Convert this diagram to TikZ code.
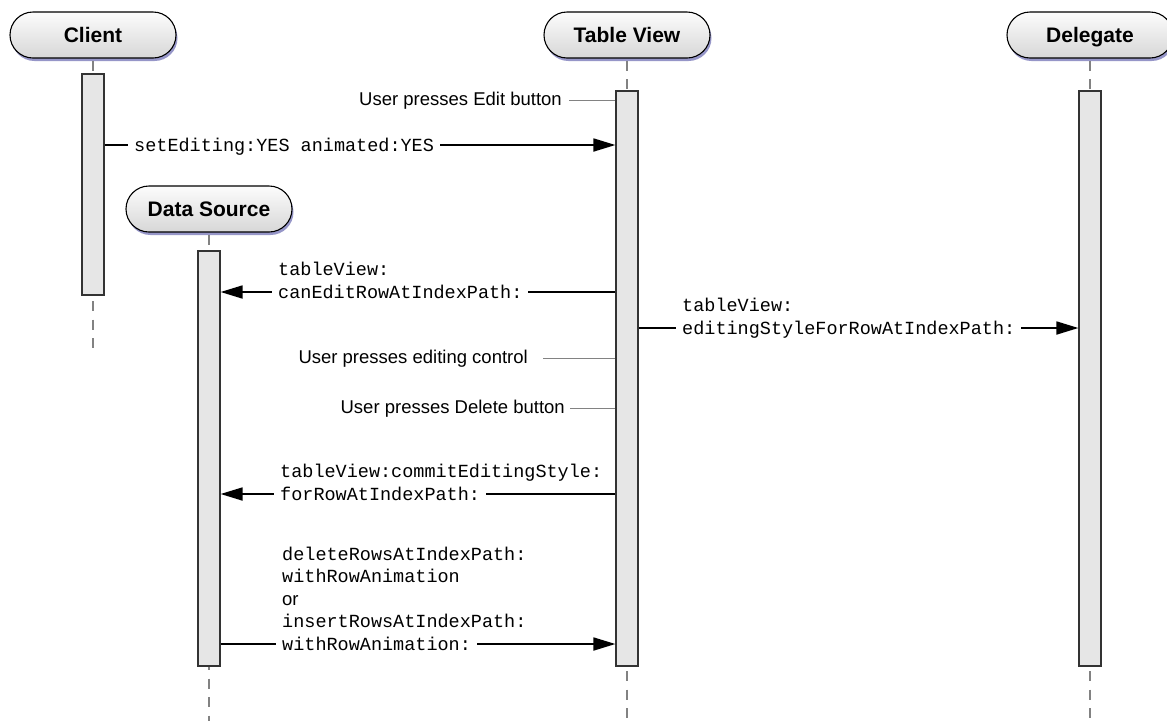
\documentclass[tikz,border=0pt]{standalone}
\usepackage{fontspec}
\setmainfont{Liberation Sans}
\setmonofont{Liberation Mono}
\usetikzlibrary{arrows.meta, shadows}
\definecolor{barfill}{RGB}{230, 230, 230}
\definecolor{pilltop}{RGB}{252, 252, 252}
\definecolor{pillbottom}{RGB}{215, 215, 215}
\definecolor{pillshadow}{RGB}{150, 150, 200}
\definecolor{lifegray}{RGB}{130, 130, 130}
\newcommand{\msgfont}{\fontsize{18.5}{22.5}\selectfont\ttfamily}
\newcommand{\notefont}{\fontsize{18.5}{22.5}\selectfont}

\begin{document}
\begin{tikzpicture}[x=1pt, y=-1pt,
  actor/.style={draw, line width=1.1pt, rounded corners=23pt, minimum width=166pt,
                minimum height=46pt, top color=pilltop, bottom color=pillbottom,
                text height=15pt, text depth=0pt,
                font=\fontsize{21}{25}\selectfont\bfseries,
                drop shadow={shadow xshift=1.5pt, shadow yshift=-3pt, fill=pillshadow, opacity=1}},
  bar/.style={draw=black!80, line width=1.2pt, fill=barfill, minimum width=22pt, inner sep=0pt},
  lifeline/.style={lifegray, line width=1.5pt, dash pattern=on 10pt off 8.5pt, dash phase=16.5pt},
  msg/.style={-{Triangle[length=22pt, width=13pt]}, line width=1.8pt},
  msgtext/.style={fill=white, font=\msgfont, inner xsep=6pt, inner ysep=0pt, anchor=base west},
  msghead/.style={font=\msgfont, inner xsep=6pt, inner ysep=0pt, anchor=base west},
  note/.style={font=\notefont, inner sep=0pt, anchor=base east},
  callout/.style={lifegray, line width=1pt},
]
\useasboundingbox (0,0) rectangle (1167,721);

% Participants
\node[actor] (client) at (93,35) {Client};
\node[actor] (tableview) at (627,35) {Table View};
\node[actor] (delegate) at (1090,35) {Delegate};
\node[actor] (datasource) at (209,209) {Data Source};

% Lifelines
\draw[lifeline] (client.south) -- (client.south |- 0,350);
\draw[lifeline] (tableview.south) -- (tableview.south |- 0,721);
\draw[lifeline] (delegate.south) -- (delegate.south |- 0,721);
\draw[lifeline] (datasource.south) -- (datasource.south |- 0,721);

% Activation bars
\node[bar, minimum height=221pt] (clientbar) at (93,184.5) {};
\node[bar, minimum height=415pt] (dsbar) at (209,458.5) {};
\node[bar, minimum height=575pt] (tvbar) at (627,378.5) {};
\node[bar, minimum height=575pt] (delbar) at (1090,378.5) {};

% Messages
\draw[msg] (clientbar.east |- 0,145) -- (tvbar.west |- 0,145);
\draw[msg] (tvbar.west |- 0,292) -- (dsbar.east |- 0,292);
\draw[msg] (tvbar.east |- 0,328) -- (delbar.west |- 0,328);
\draw[msg] (tvbar.west |- 0,494) -- (dsbar.east |- 0,494);
\draw[msg] (dsbar.east |- 0,644) -- (tvbar.west |- 0,644);

\node[msgtext] (seteditlbl) at (128,151) {setEditing:YES animated:YES};

\node[msgtext] (caneditlbl) at (272,298) {canEditRowAtIndexPath:};
\node[msghead] at ([yshift=22.5pt]caneditlbl.base west) {tableView:};

\node[msgtext] (stylelbl) at (676,334) {editingStyleForRowAtIndexPath:};
\node[msghead] at ([yshift=22.5pt]stylelbl.base west) {tableView:};

\node[msgtext] (commitlbl) at (274,500) {forRowAtIndexPath:};
\node[msghead] at ([yshift=22.5pt]commitlbl.base west) {tableView:commitEditingStyle:};

\node[msgtext] (rowslbl) at (276,650) {withRowAnimation:};
\node[msghead] at ([yshift=22.5pt]rowslbl.base west)
{\begin{tabular}[b]{@{}l@{}}deleteRowsAtIndexPath:\\withRowAnimation\\{\rmfamily or}\\
insertRowsAtIndexPath:\end{tabular}};

% User actions
\node[note] (editnote) at (562,105) {User presses Edit button};
\node[note] (controlnote) at (528,363) {User presses editing control};
\node[note] (deletenote) at (565,413) {User presses Delete button};
\draw[callout] ([xshift=7pt]editnote.east) -- (tvbar.west |- editnote.east);
\draw[callout] ([xshift=15pt]controlnote.east) -- (tvbar.west |- controlnote.east);
\draw[callout] ([xshift=5pt]deletenote.east) -- (tvbar.west |- deletenote.east);
\end{tikzpicture}
\end{document}
